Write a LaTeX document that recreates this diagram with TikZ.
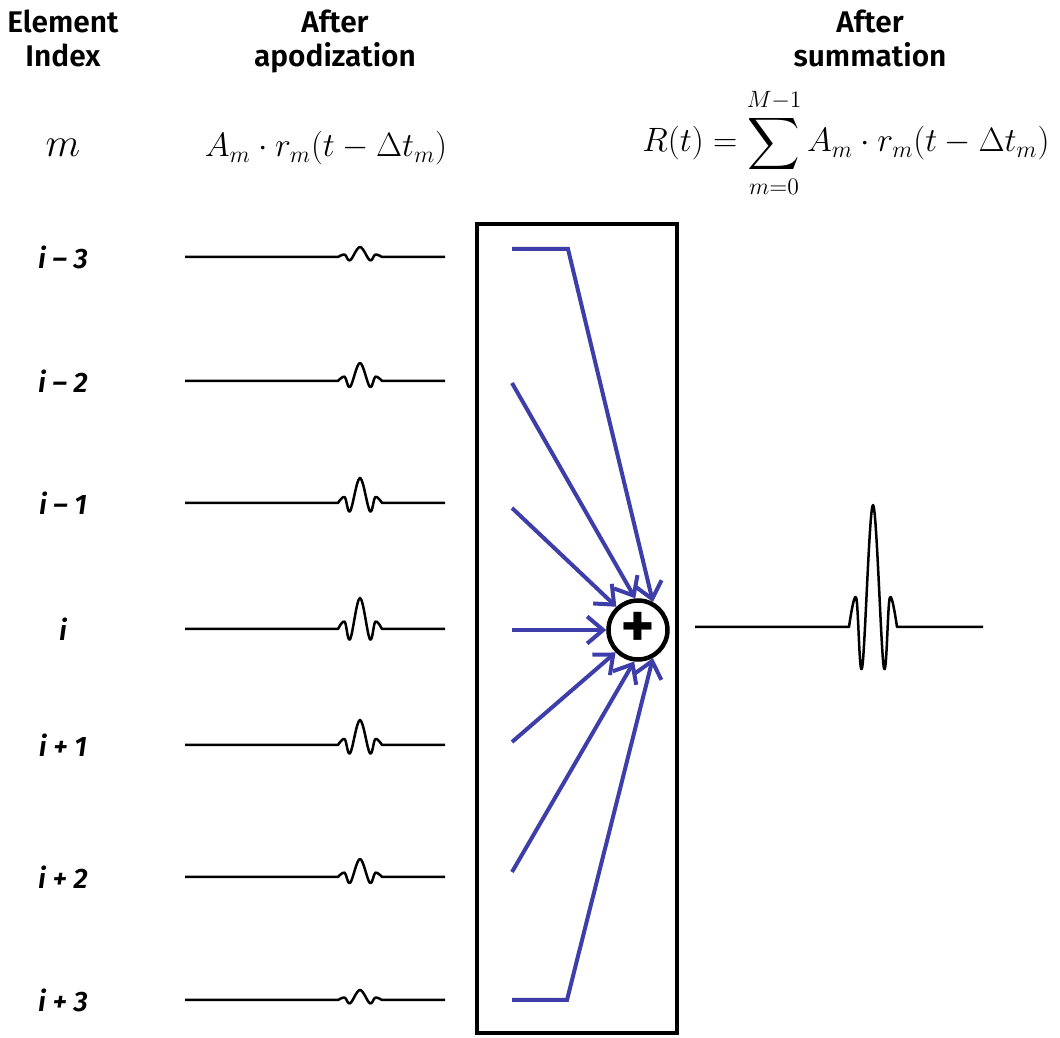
\documentclass[tikz,border=0pt]{standalone}
\usepackage{fix-cm}
\usepackage{exscale}
\usepackage{fontspec}
\setsansfont{Fira Sans}[BoldFont={Fira Sans SemiBold}, BoldItalicFont={Fira Sans SemiBold Italic}]
\usetikzlibrary{arrows.meta}
\definecolor{sumblue}{RGB}{62,62,170}

% #1 left end, #2 right end, #3 centre, #4 baseline, #5 peak height, #6 half width
\newcommand{\pulse}[6]{%
  \draw[wave] (#1,#4) -- (#3-#6,#4) -- plot[smooth, tension=0.6] coordinates {(#3-#6,#4) (#3-0.7*#6,#4-0.24*#5) (#3-0.45*#6,#4+0.33*#5) (#3,#4-#5) (#3+0.45*#6,#4+0.33*#5) (#3+0.7*#6,#4-0.24*#5) (#3+#6,#4)} -- (#2,#4);}

\begin{document}
\begin{tikzpicture}[x=0.2mm, y=-0.2mm, >={Straight Barb[length=3.2mm,width=5.4mm]},
    head/.style={font=\sffamily\bfseries\fontsize{17}{19}\selectfont, align=center, inner sep=0pt, anchor=north},
    idx/.style={font=\sffamily\bfseries\itshape\fontsize{16}{18}\selectfont},
    eqn/.style={font=\fontsize{19.2}{23}\selectfont, anchor=base},
    wave/.style={line width=0.5mm, line join=round},
    feed/.style={->, sumblue, line width=0.8mm}]
  \useasboundingbox (0,0) rectangle (1060,1038);
  \node[head] (hidx) at (63,10) {Element\\Index};
  \node[head] (hapo) at (335,10) {After\\apodization};
  \node[head] (hsum) at (870,10) {After\\summation};
  \node[eqn, font=\fontsize{23}{27}\selectfont] (m) at (63,157) {$m$};
  \node[eqn] (apo) at (326,157) {$A_m\cdot r_m(t-\Delta t_m)$};
  \node[eqn] (rsum) at (846,152) {$\displaystyle R(t)=\sum_{m=0}^{M-1}A_m\cdot r_m(t-\Delta t_m)$};

  \node[idx] (r1) at (63,257) {i \textendash{} 3};
  \node[idx] (r2) at (63,381) {i \textendash{} 2};
  \node[idx] (r3) at (63,503) {i \textendash{} 1};
  \node[idx] (r4) at (63,629) {i};
  \node[idx] (r5) at (63,745) {i + 1};
  \node[idx] (r6) at (63,877) {i + 2};
  \node[idx] (r7) at (63,1000) {i + 3};

  \pulse{185}{445}{360}{257}{10}{22}
  \pulse{185}{445}{360}{381}{18}{22}
  \pulse{185}{445}{360}{503}{25}{22}
  \pulse{185}{445}{360}{629}{31}{22}
  \pulse{185}{445}{360}{745}{25}{22}
  \pulse{185}{445}{360}{877}{18}{22}
  \pulse{185}{445}{360}{1000}{10}{22}
  \pulse{695}{983}{873}{627}{122}{24}

  \node[draw, line width=0.8mm, minimum width=40mm, minimum height=161.8mm, inner sep=0pt] (bank) at (577,628.5) {};
  \node[circle, draw, line width=0.9mm, fill=white, minimum size=11.8mm, inner sep=0pt,
        font=\sffamily\bfseries\fontsize{38}{38}\selectfont] (sum) at (638,630) {+};

  \coordinate (s1) at (512,249);
  \coordinate (k1) at (568,249);
  \coordinate (s2) at (512,383);
  \coordinate (s3) at (512,508);
  \coordinate (s4) at (512,630);
  \coordinate (s5) at (512,742);
  \coordinate (s6) at (512,872);
  \coordinate (s7) at (512,1000);
  \coordinate (k7) at (567,1000);
  \draw[feed] (s1) -- (k1) -- (sum.62);
  \draw[feed] (s2) -- (sum.95);
  \draw[feed] (s3) -- (sum.133);
  \draw[feed] (s4) -- (sum.west);
  \draw[feed] (s5) -- (sum.225);
  \draw[feed] (s6) -- (sum.263);
  \draw[feed] (s7) -- (k7) -- (sum.298);
\end{tikzpicture}
\end{document}
